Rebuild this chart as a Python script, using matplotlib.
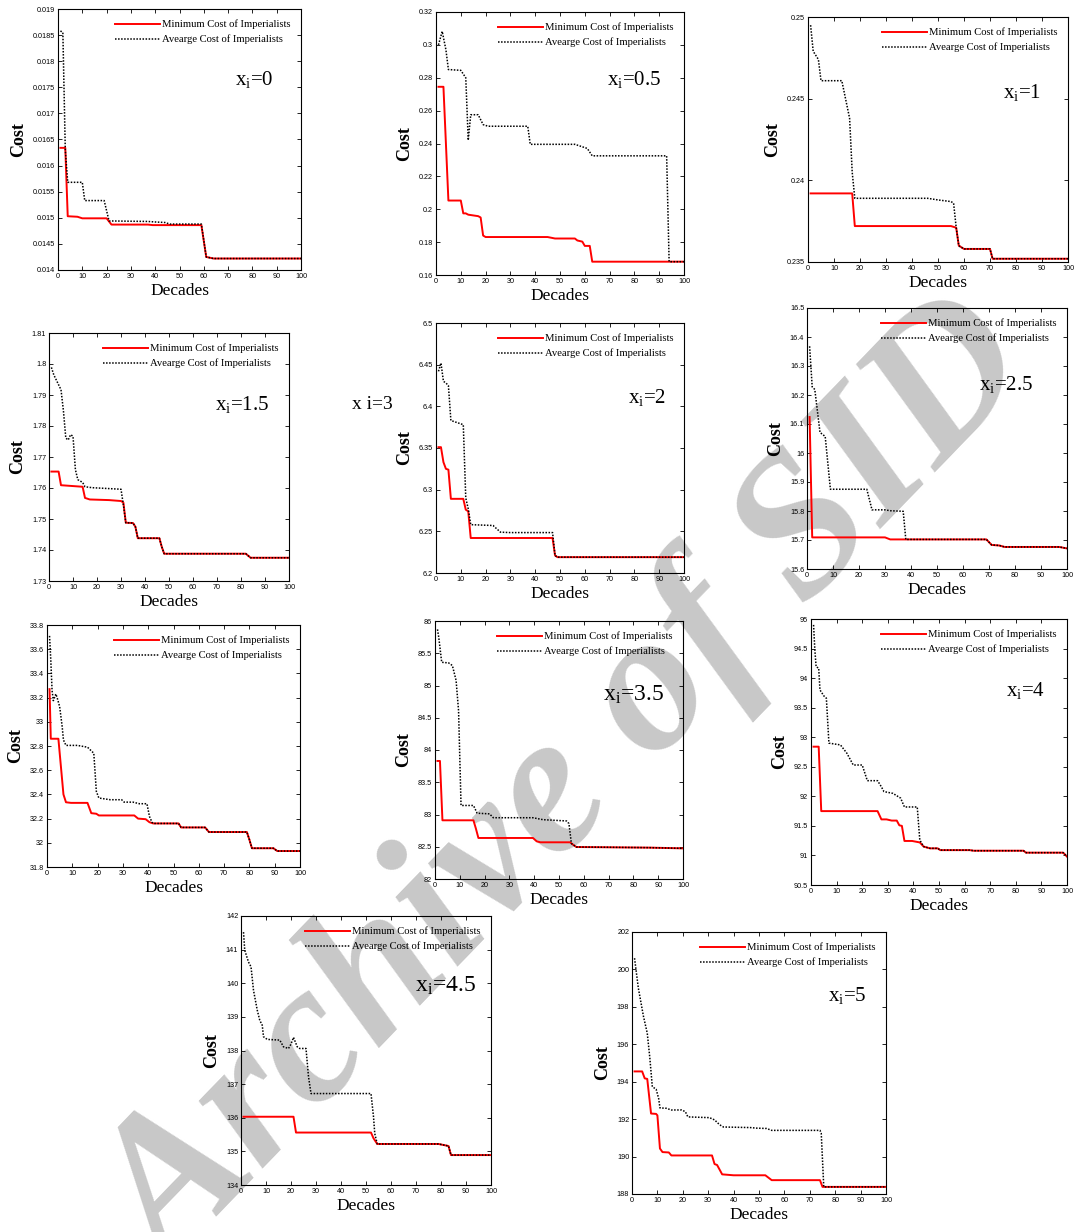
import numpy as np
import matplotlib
matplotlib.use("Agg")
import matplotlib.pyplot as plt

plt.rcParams['font.family'] = ['Liberation Serif', 'DejaVu Serif']
plt.rcParams['mathtext.fontset'] = 'custom'
plt.rcParams['mathtext.rm'] = 'Liberation Serif'
plt.rcParams['mathtext.it'] = 'Liberation Serif:italic'

# ---- data (decade, cost) ----
# x_i = 0
dec_0_min = [1, 3, 4, 8, 10, 20, 22, 37, 39, 59, 61, 64, 100]
cost_0_min = [0.01634, 0.01634, 0.01503, 0.01502, 0.01499, 0.01499, 0.01487, 0.01487,
              0.01486, 0.01486, 0.01425, 0.01422, 0.01422]
dec_0_avg = [1, 2, 3, 4, 10, 11, 19, 21, 37, 40, 44, 46, 59, 61, 64, 100]
cost_0_avg = [0.01858, 0.01855, 0.0163, 0.01568, 0.01568, 0.01533, 0.01533, 0.01494, 0.01493,
              0.01492, 0.01491, 0.01488, 0.01488, 0.01425, 0.01422, 0.01422]

# x_i = 0.5
dec_05_min = [1, 3, 5, 10, 11, 12, 13, 17, 18, 19, 20, 45, 48, 56, 57, 59, 60, 62, 63, 100]
cost_05_min = [0.2745, 0.2745, 0.2053, 0.2053, 0.1975, 0.1975, 0.1967, 0.1958, 0.195, 0.184,
               0.1831, 0.1831, 0.1822, 0.1822, 0.181, 0.1803, 0.1777, 0.1777, 0.1681, 0.1681]
dec_05_avg = [1, 2.5, 4, 5, 10, 12, 13, 14, 17, 19, 21, 37, 38, 56, 58, 61, 63, 93, 94, 100]
cost_05_avg = [0.300, 0.3082, 0.297, 0.285, 0.2845, 0.280, 0.242, 0.2575, 0.2575, 0.2515,
               0.2505, 0.2505, 0.2395, 0.2395, 0.2385, 0.237, 0.2325, 0.2325, 0.1681, 0.1681]

# x_i = 1
dec_1_min = [1, 17, 18, 55, 57, 58, 60, 70, 71, 100]
cost_1_min = [0.2392, 0.2392, 0.2372, 0.2372, 0.2371, 0.2360, 0.2358, 0.2358, 0.2352, 0.2352]
dec_1_avg = [1, 2, 4, 5, 13, 16, 17, 18, 46, 50, 55, 56, 57, 58, 60, 70, 71, 100]
cost_1_avg = [0.2495, 0.2479, 0.2474, 0.2461, 0.2461, 0.2438, 0.2405, 0.2389, 0.2389, 0.2388,
              0.2387, 0.2386, 0.2371, 0.2360, 0.2358, 0.2358, 0.2352, 0.2352]

# x_i = 1.5
dec_15_min = [1, 4, 5, 14, 15, 17, 25, 30, 31, 32, 35, 36, 37, 46, 47, 48, 82, 84, 100]
cost_15_min = [1.7653, 1.7653, 1.7609, 1.7604, 1.7568, 1.7563, 1.7561, 1.7558, 1.7553, 1.7488,
               1.7487, 1.7475, 1.7438, 1.7438, 1.7410, 1.7388, 1.7388, 1.7375, 1.7375]
dec_15_avg = [1, 2, 4, 5, 6, 7, 8, 9, 10, 11, 12, 14, 15, 18, 30, 31, 32, 35, 36, 37, 46, 47,
              48, 82, 84, 100]
cost_15_avg = [1.7989, 1.7965, 1.7933, 1.7917, 1.7850, 1.7761, 1.7755, 1.7772, 1.7767, 1.7659,
               1.7627, 1.7618, 1.7604, 1.7601, 1.7596, 1.7545, 1.7488, 1.7487, 1.7475, 1.7438,
               1.7438, 1.7410, 1.7388, 1.7388, 1.7375, 1.7375]

# x_i = 2
dec_2_min = [1, 2, 3, 4, 5, 6, 11, 12, 13, 14, 47, 48, 49, 100]
cost_2_min = [6.351, 6.351, 6.333, 6.325, 6.324, 6.289, 6.289, 6.276, 6.274, 6.242, 6.242,
              6.221, 6.219, 6.219]
dec_2_avg = [1, 2, 3, 4, 5, 6, 8, 11, 12, 13, 14, 23, 26, 30, 47, 48, 49, 100]
cost_2_avg = [6.442, 6.452, 6.430, 6.428, 6.425, 6.383, 6.381, 6.378, 6.290, 6.277, 6.258,
              6.257, 6.249, 6.2485, 6.2485, 6.221, 6.219, 6.219]

# x_i = 2.5
dec_25_min = [1, 2, 30, 32, 69, 71, 74, 76, 97, 100]
cost_25_min = [16.124, 15.709, 15.709, 15.702, 15.702, 15.683, 15.681, 15.676, 15.676, 15.671]
dec_25_avg = [1, 2, 3, 5, 7, 9, 23, 25, 30, 32, 37, 38, 69, 71, 74, 76, 97, 100]
cost_25_avg = [16.368, 16.228, 16.219, 16.071, 16.057, 15.875, 15.875, 15.804, 15.804, 15.801,
               15.799, 15.702, 15.702, 15.683, 15.681, 15.676, 15.676, 15.671]

# x_i = 3
dec_3_min = [1, 1.5, 4.5, 5.5, 6.5, 7.5, 9.5, 16, 17.5, 19.5, 20.5, 34.5, 36, 39, 40.5, 42, 52,
             53, 62.5, 64, 79, 80, 81, 89.5, 91, 100]
cost_3_min = [33.27, 32.86, 32.86, 32.63, 32.40, 32.335, 32.33, 32.33, 32.245, 32.24, 32.226,
              32.226, 32.20, 32.195, 32.17, 32.16, 32.16, 32.127, 32.127, 32.089, 32.089,
              32.026, 31.955, 31.955, 31.932, 31.932]
dec_3_avg = [1, 1.5, 2, 2.5, 3.5, 4, 5, 6, 6.5, 7.5, 12, 16, 18.5, 19.5, 20.5, 25, 29.5, 30.5,
             34, 36.5, 39.5, 40.5, 41.5, 42, 52, 53, 62.5, 64, 79, 80, 81, 89.5, 91, 100]
cost_3_avg = [33.71, 33.51, 33.26, 33.175, 33.23, 33.20, 33.125, 32.96, 32.85, 32.805, 32.805,
              32.79, 32.74, 32.425, 32.37, 32.356, 32.356, 32.336, 32.336, 32.323, 32.323,
              32.218, 32.17, 32.16, 32.16, 32.127, 32.127, 32.089, 32.089, 32.026, 31.955,
              31.955, 31.932, 31.932]

# x_i = 3.5
dec_35_min = [1, 2, 3, 15.5, 16.5, 17.5, 39.5, 41, 42.5, 54.5, 56, 57, 87, 100]
cost_35_min = [83.83, 83.83, 82.91, 82.91, 82.78, 82.636, 82.636, 82.584, 82.569, 82.569,
               82.522, 82.496, 82.486, 82.475]
dec_35_avg = [1, 1.5, 2.7, 5.5, 7, 8.5, 9.5, 10.5, 15.5, 17, 22, 23.5, 39.5, 43.5, 53, 54, 55,
              57, 87, 100]
cost_35_avg = [85.87, 85.75, 85.36, 85.35, 85.31, 85.08, 84.61, 83.14, 83.14, 83.02, 83.01,
               82.95, 82.95, 82.92, 82.90, 82.86, 82.55, 82.496, 82.486, 82.475]

# x_i = 4
dec_4_min = [1, 3, 4, 26, 27.5, 29.5, 31.5, 33.5, 34.5, 35.5, 36.5, 39.5, 42.5, 44, 46.5, 49.5,
             50.5, 62, 63.5, 83, 84, 98.5, 100]
cost_4_min = [92.84, 92.84, 91.75, 91.75, 91.61, 91.61, 91.59, 91.59, 91.51, 91.50, 91.245,
              91.245, 91.22, 91.15, 91.12, 91.12, 91.09, 91.09, 91.08, 91.08, 91.047, 91.047, 90.98]
dec_4_avg = [1, 1.5, 2, 3, 3.5, 5, 6, 7, 11.5, 14, 16.5, 20, 22, 26, 27.5, 28.5, 32, 35, 36.5,
             41.5, 42.5, 44, 46.5, 49.5, 50.5, 62, 63.5, 83, 84, 98.5, 100]
cost_4_avg = [94.9, 94.48, 94.19, 94.17, 93.8, 93.70, 93.66, 92.90, 92.87, 92.73, 92.53, 92.53,
              92.265, 92.265, 92.16, 92.08, 92.05, 91.97, 91.82, 91.82, 91.26, 91.15, 91.12,
              91.12, 91.09, 91.09, 91.08, 91.08, 91.047, 91.047, 90.98]

# x_i = 4.5
dec_45_min = [1, 21, 22, 52, 53, 54.5, 79, 83, 84, 100]
cost_45_min = [136.03, 136.03, 135.56, 135.56, 135.39, 135.22, 135.22, 135.16, 134.89, 134.89]
dec_45_avg = [1, 1.5, 3, 4, 5, 6.5, 7.5, 8.5, 9, 10.5, 15.5, 17, 19, 20, 21, 22.5, 23.5, 26, 27,
              28, 52, 53, 53.5, 54.5, 79, 83, 84, 100]
cost_45_avg = [141.52, 140.98, 140.63, 140.49, 139.79, 139.2, 138.9, 138.75, 138.41, 138.33,
               138.31, 138.11, 138.06, 138.19, 138.39, 138.11, 138.06, 138.06, 137.22, 136.72,
               136.72, 136.03, 135.53, 135.22, 135.22, 135.16, 134.89, 134.89]

# x_i = 5
dec_5_min = [1, 4, 5, 6, 7.5, 9.5, 10, 11, 12, 14.5, 15.5, 31.5, 32.5, 33.5, 35.5, 40, 52.5, 55,
             74, 75, 100]
cost_5_min = [194.55, 194.55, 194.18, 194.15, 192.3, 192.28, 192.2, 190.43, 190.24, 190.22,
              190.06, 190.06, 189.6, 189.55, 189.05, 189.0, 189.0, 188.74, 188.74, 188.38, 188.38]
dec_5_avg = [1, 2.5, 4.5, 6, 7, 8, 9.5, 10.5, 11, 13.5, 15.5, 19.5, 21, 22, 30.5, 32.5, 34.5, 36,
             46.5, 49, 53, 55, 74, 74.5, 75.5, 100]
cost_5_avg = [200.6, 199.0, 197.5, 196.6, 195.3, 193.73, 193.6, 193.1, 192.6, 192.58, 192.49,
              192.49, 192.4, 192.12, 192.08, 191.96, 191.7, 191.58, 191.55, 191.52, 191.5, 191.4,
              191.4, 191.25, 188.38, 188.38]

xi_labels = ['0', '0.5', '1', '1.5', '2', '2.5', '', '3.5', '4', '4.5', '5']
ymins = [0.014, 0.16, 0.235, 1.73, 6.2, 15.6, 31.8, 82, 90.5, 134, 188]
ymaxs = [0.019, 0.32, 0.25, 1.81, 6.5, 16.5, 33.8, 86, 95, 142, 202]
ysteps = [0.0005, 0.02, 0.005, 0.01, 0.05, 0.1, 0.2, 0.5, 0.5, 1, 2]

W, H = 1074, 1232
# axes boxes in pixels: left, top, right, bottom
boxes = [(58, 9, 301, 270), (436, 12, 684, 275), (808, 17, 1068, 262),
         (49, 333, 289, 581), (436, 323, 684, 573), (807, 308, 1067, 569),
         (47, 625, 300, 867), (435, 621, 683, 879), (811, 619, 1067, 885),
         (241, 916, 491, 1185), (632, 932, 886, 1194)]
label_pos = [(0.885, 0.73, 15), (0.907, 0.743, 15), (0.896, 0.69, 15),
             (0.92, 0.71, 15), (0.93, 0.70, 15), (0.87, 0.707, 15), None,
             (0.923, 0.713, 17), (0.914, 0.733, 15), (0.94, 0.74, 17), (0.924, 0.756, 15)]

series = [(dec_0_min, cost_0_min, dec_0_avg, cost_0_avg),
          (dec_05_min, cost_05_min, dec_05_avg, cost_05_avg),
          (dec_1_min, cost_1_min, dec_1_avg, cost_1_avg),
          (dec_15_min, cost_15_min, dec_15_avg, cost_15_avg),
          (dec_2_min, cost_2_min, dec_2_avg, cost_2_avg),
          (dec_25_min, cost_25_min, dec_25_avg, cost_25_avg),
          (dec_3_min, cost_3_min, dec_3_avg, cost_3_avg),
          (dec_35_min, cost_35_min, dec_35_avg, cost_35_avg),
          (dec_4_min, cost_4_min, dec_4_avg, cost_4_avg),
          (dec_45_min, cost_45_min, dec_45_avg, cost_45_avg),
          (dec_5_min, cost_5_min, dec_5_avg, cost_5_avg)]

fig = plt.figure(figsize=(W / 100, H / 100), dpi=100)

# watermark behind the charts
fig.text(570 / W, 1 - 790 / H, 'Archive of SID', rotation=46, ha='center', va='center',
         fontsize=145, fontweight='bold', fontstyle='italic', color='#c8c8c8', zorder=-5)

for i in range(11):
    l, t, r, b = boxes[i]
    ax = fig.add_axes([l / W, 1 - b / H, (r - l) / W, (b - t) / H])
    ax.set_facecolor('none')
    dmin, cmin, davg, cavg = series[i]
    ax.plot(dmin, cmin, color='red', lw=1.4, label='Minimum Cost of Imperialists')
    ax.plot(davg, cavg, color='black', lw=1.1, ls=(0, (1, 1)),
            label='Avearge Cost of Imperialists')
    ax.set_xlim(0, 100)
    ax.set_ylim(ymins[i], ymaxs[i])
    ax.set_xticks(range(0, 101, 10))
    yt = np.round(np.arange(ymins[i], ymaxs[i] + ysteps[i] / 2, ysteps[i]), 6)
    ax.set_yticks(yt)
    ax.set_yticklabels(['%g' % v for v in yt])
    ax.tick_params(direction='in', top=True, right=True, length=3, width=0.6,
                   labelsize=5.2, pad=2, labelfontfamily='Liberation Sans')
    for s in ax.spines.values():
        s.set_linewidth(0.8)
    ax.set_xlabel('Decades', fontsize=12.5, labelpad=2)
    ax.set_ylabel('Cost', fontsize=13, fontweight='bold', labelpad=4)
    ax.legend(loc='upper right', frameon=False, fontsize=7.7, handlelength=4.2,
              handletextpad=0.2, labelspacing=0.5, borderaxespad=0.6)
    if label_pos[i] is not None:
        px, py, fs = label_pos[i]
        ax.text(px, py, r'x$_\mathrm{i}$=' + xi_labels[i], transform=ax.transAxes,
                ha='right', va='center', fontsize=fs)

fig.text(372 / W, 1 - 405 / H, 'x i=3', ha='center', va='center', fontsize=14)

fig.savefig('out.png', dpi=100)
